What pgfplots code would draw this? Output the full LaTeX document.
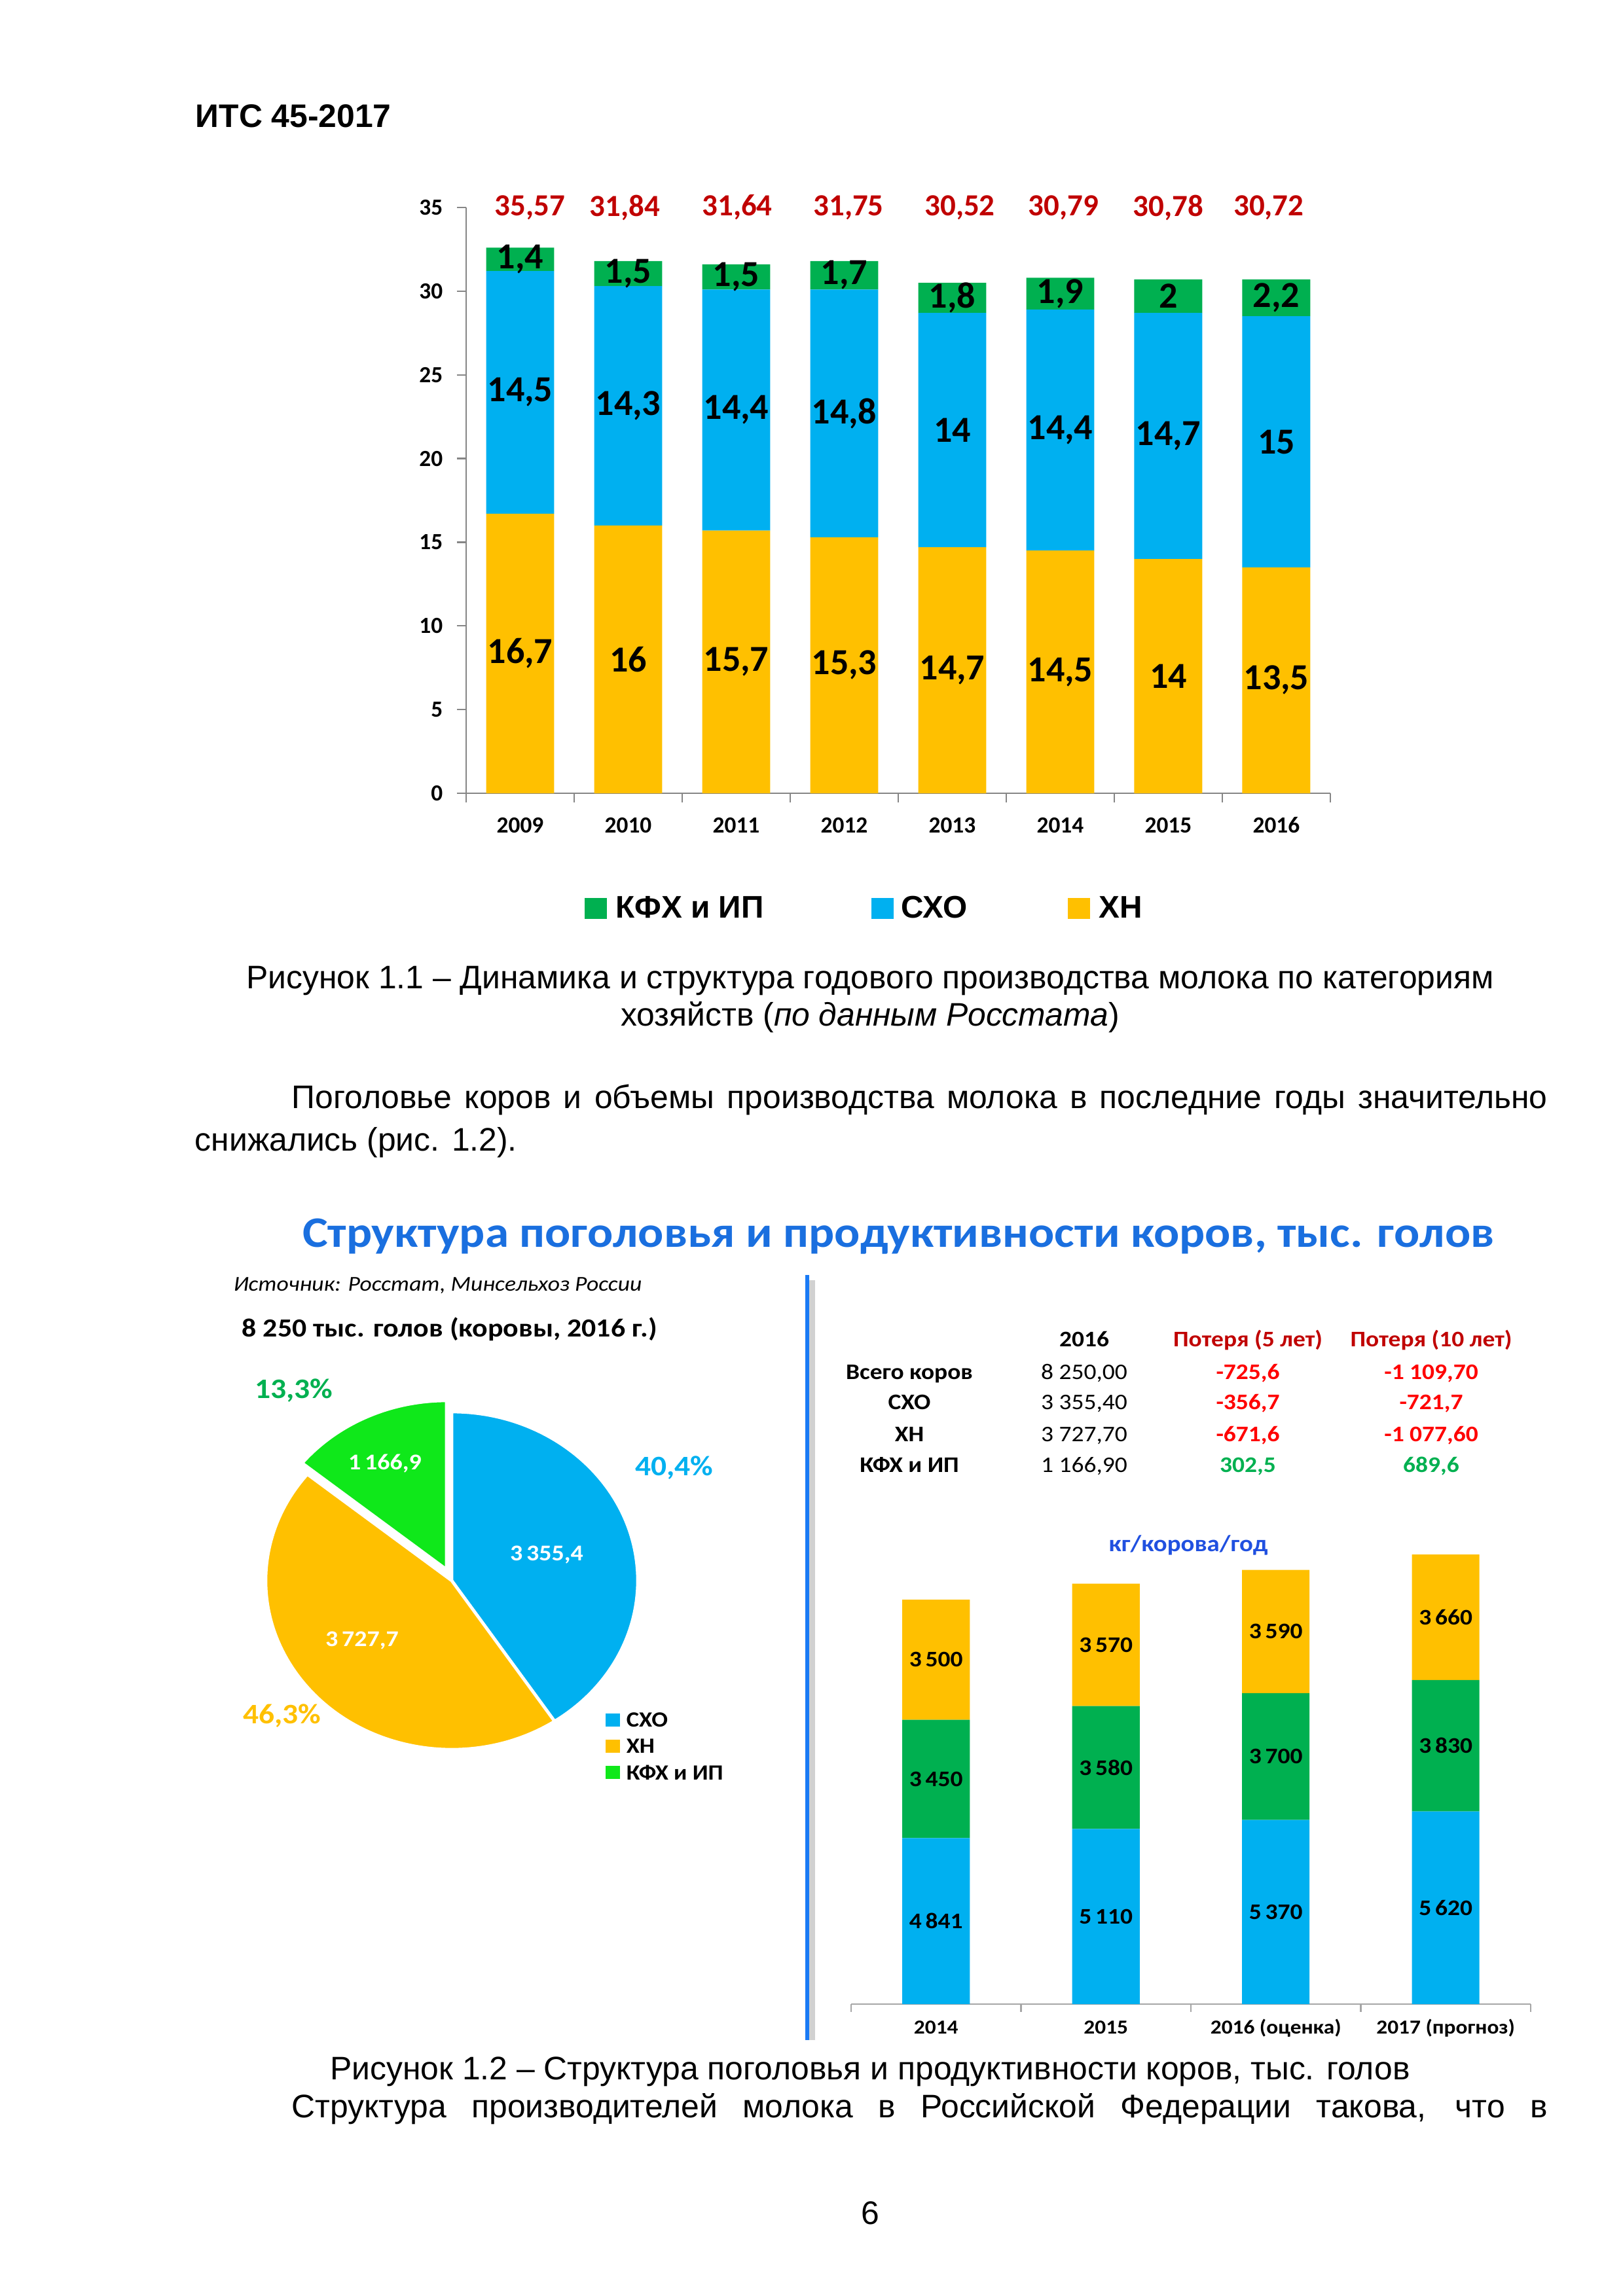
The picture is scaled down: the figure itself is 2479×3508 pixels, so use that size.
\documentclass[border=0pt]{standalone}
\usepackage{fontspec}
\usepackage{pgfplots}
\usepackage{pgfplotstable}
\pgfplotsset{compat=1.18}
\setmainfont{Liberation Sans}
\newfontfamily\calf{Carlito}
\newfontfamily\cals[FakeStretch=1.1]{Carlito}
\newcommand\fs[1]{\fontsize{#1}{#1}\selectfont}

\definecolor{cyel}{HTML}{FFC000}
\definecolor{cblu}{HTML}{00B0F0}
\definecolor{cgrn}{HTML}{00B050}
\definecolor{cpg}{HTML}{0FE81A}
\definecolor{cred}{HTML}{C00000}
\definecolor{rred}{HTML}{FF0000}
\definecolor{ttl}{HTML}{1A6FDF}
\definecolor{axg}{HTML}{868686}
\definecolor{axgb}{HTML}{A6A6A6}
\definecolor{vline}{HTML}{1A7BF5}
\definecolor{kgc}{HTML}{2050E0}

\pgfplotstableread{
x xn sxo kfh lxn lsxo lkfh tot tx
0 16.7 14.5 1.4 16,7 14,5 1,4 35,57 0.09
1 16 14.3 1.5 16 14,3 1,5 31,84 0.97
2 15.7 14.4 1.5 15,7 14,4 1,5 31,64 2.01
3 15.3 14.8 1.7 15,3 14,8 1,7 31,75 3.04
4 14.7 14 1.8 14,7 14 1,8 30,52 4.07
5 14.5 14.4 1.9 14,5 14,4 1,9 30,79 5.03
6 14 14.7 2 14 14,7 2 30,78 6.0
7 13.5 15 2.2 13,5 15 2,2 30,72 6.93
}\milk

\pgfplotstableread{
x sxo kfh xn
0 4841 3450 3500
1 5110 3580 3570
2 5370 3700 3590
3 5620 3830 3660
}\prodtab

\pgfplotsset{
  c1geo/.style={at={(C1)}, anchor=south west, scale only axis,
    width=111.76mm, height=75.78mm, xmin=-0.5, xmax=7.5, ymin=0, ymax=35, clip=false},
  c2geo/.style={at={(C2)}, anchor=south west, scale only axis,
    width=87.88mm, height=62.11mm, xmin=-0.5, xmax=3.5, ymin=0, ymax=14000, clip=false},
}

\begin{document}
\begin{tikzpicture}[x=0.0846657mm, y=-0.0846657mm]
\useasboundingbox (0,0) rectangle (2479,3508);
\coordinate (C1) at (712,1212);
\coordinate (C2) at (1300,3062);
\coordinate (CP) at (406,2673);
\pgfmathsetmacro\aA{90-360*(3355.4/8250)}
\pgfmathsetmacro\aB{\aA-360*(3727.7/8250)}

% ---------- header ----------
\node[anchor=base west, inner sep=0pt, font=\bfseries\fs{12}] at (298,194) {ИТС 45-2017};

% ---------- chart 1 ----------
\begin{axis}[c1geo, ybar stacked, bar width=0.63,
  axis x line*=bottom, axis y line*=left,
  axis line style={draw=axg, line width=0.2mm},
  tick style={draw=axg, line width=0.2mm},
  tick align=outside, major tick length=0pt, minor tick length=1.19mm,
  xtick={0,...,7}, xticklabels={2009,2010,2011,2012,2013,2014,2015,2016},
  minor xtick={-0.5,0.5,...,7.5},
  ytick={0,5,...,35}, minor ytick={0,5,...,35},
  ticklabel style={font=\calf\bfseries\fs{8.5}, inner sep=0pt},
  xticklabel style={anchor=base, yshift=-5.08mm},
  yticklabel style={anchor=east, xshift=-2.96mm},
  /pgf/number format/assume math mode=true]
\addplot[fill=cyel, draw=none] table[x=x, y=xn] {\milk};
\addplot[fill=cblu, draw=none] table[x=x, y=sxo] {\milk};
\addplot[fill=cgrn, draw=none] table[x=x, y=kfh] {\milk};
\end{axis}

\begin{axis}[c1geo, hide axis, nodes near coords, point meta=explicit symbolic,
  every node near coord/.append style={anchor=center, inner sep=0pt, font=\calf\bfseries\fs{13.5}}]
\addplot[draw=none, mark=none] table[x=x, y expr=\thisrow{xn}/2, meta=lxn] {\milk};
\addplot[draw=none, mark=none] table[x=x, y expr=\thisrow{xn}+\thisrow{sxo}/2, meta=lsxo] {\milk};
\addplot[draw=none, mark=none] table[x=x, y expr=\thisrow{xn}+\thisrow{sxo}+\thisrow{kfh}/2, meta=lkfh] {\milk};
\addplot[draw=none, mark=none, every node near coord/.append style={text=cred, font=\calf\bfseries\fs{11.3}}] table[x=tx, y expr=35, meta=tot] {\milk};
\end{axis}

% legend chart 1
\fill[cgrn] (893,1372) rectangle (927,1404);
\node[anchor=base west, inner sep=0pt, font=\bfseries\fs{11.5}] at (940,1402) {КФХ и ИП};
\fill[cblu] (1331,1372) rectangle (1365,1404);
\node[anchor=base west, inner sep=0pt, font=\bfseries\fs{11.5}] at (1376,1402) {СХО};
\fill[cyel] (1631,1372) rectangle (1665,1404);
\node[anchor=base west, inner sep=0pt, font=\bfseries\fs{11.5}] at (1678,1402) {ХН};

% captions and text
\node[anchor=base, inner sep=0pt, font=\fs{12}] at (1329,1510) {Рисунок 1.1 – Динамика и структура годового производства молока по категориям};
\node[anchor=base, inner sep=0pt, font=\fs{12}] at (1329,1567) {хозяйств (\textit{по данным Росстата})};
\node[anchor=base west, inner sep=0pt, font=\fs{12}] at (445,1693) {\makebox[162.39mm][s]{Поголовье коров и объемы производства молока в последние годы значительно}};
\node[anchor=base west, inner sep=0pt, font=\fs{12}] at (297,1758) {снижались (рис. 1.2).};

% ---------- chart 2 ----------
\node[anchor=base, inner sep=0pt, font=\cals\bfseries\fs{16}, text=ttl] at (1372,1905) {Структура поголовья и продуктивности коров, тыс. голов};
\node[anchor=base west, inner sep=0pt, font=\cals\itshape\fs{7.8}] at (356,1972) {Источник: Росстат, Минсельхоз России};
\node[anchor=base west, inner sep=0pt, font=\cals\bfseries\fs{9.6}] at (369,2042) {8~250 тыс. голов (коровы, 2016 г.)};

% separator
\fill[black!18] (1236,1956) rectangle (1245,3117);
\fill[vline] (1230,1948) rectangle (1236,3117);

% pie
\begin{axis}[at={(CP)}, anchor=south west, scale only axis, width=48.09mm, height=43.69mm,
  xmin=-1, xmax=1, ymin=-1, ymax=1, hide axis, clip=false]
\fill[cblu, draw=white, line width=0.4mm] (axis cs:0,0) -- (axis cs:0,1)
  arc[start angle=90, end angle=\aA, x radius=24.05mm, y radius=21.84mm] -- cycle;
\fill[cyel, draw=white, line width=0.4mm] (axis cs:0,0) -- (axis cs:{cos(\aA)},{sin(\aA)})
  arc[start angle=\aA, end angle=\aB, x radius=24.05mm, y radius=21.84mm] -- cycle;
\fill[cpg, draw=white, line width=0.4mm] (axis cs:-0.028,0.066) -- (axis cs:{-0.028+cos(\aB)},{0.066+sin(\aB)})
  arc[start angle=\aB, end angle=-270, x radius=24.05mm, y radius=21.84mm] -- cycle;
\end{axis}
\node[inner sep=0pt, font=\cals\bfseries\fs{10.4}, text=cgrn] at (449,2125) {13,3\%};
\node[inner sep=0pt, font=\cals\bfseries\fs{10.4}, text=cblu] at (1030,2243) {40,4\%};
\node[inner sep=0pt, font=\cals\bfseries\fs{10.4}, text=cyel] at (431,2622) {46,3\%};
\node[inner sep=0pt, font=\cals\bfseries\fs{8.3}, text=white] at (588,2236) {1\,166,9};
\node[inner sep=0pt, font=\cals\bfseries\fs{8.3}, text=white] at (835,2376) {3\,355,4};
\node[inner sep=0pt, font=\cals\bfseries\fs{8.3}, text=white] at (553,2507) {3\,727,7};
% pie legend
\fill[cblu] (925,2618) rectangle (947,2638);
\fill[cyel] (925,2658) rectangle (947,2678);
\fill[cpg] (925,2698) rectangle (947,2718);
\node[anchor=west, inner sep=0pt, font=\cals\bfseries\fs{8}] at (956,2628) {СХО};
\node[anchor=west, inner sep=0pt, font=\cals\bfseries\fs{8}] at (956,2668) {ХН};
\node[anchor=west, inner sep=0pt, font=\cals\bfseries\fs{8}] at (956,2708) {КФХ и ИП};

% table
\begin{scope}[every node/.style={anchor=base, inner sep=0pt, font=\cals\bfseries\fs{8.2}}]
\node at (1656,2057) {2016};
\node[text=cred] at (1906,2057) {Потеря (5 лет)};
\node[text=cred] at (2186,2057) {Потеря (10 лет)};
\node at (1389,2107) {Всего коров};
\node at (1389,2153) {СХО};
\node at (1389,2202) {ХН};
\node at (1389,2249) {КФХ и ИП};
\node[font=\cals\fs{8.2}] at (1656,2107) {8~250,00};
\node[font=\cals\fs{8.2}] at (1656,2153) {3~355,40};
\node[font=\cals\fs{8.2}] at (1656,2202) {3~727,70};
\node[font=\cals\fs{8.2}] at (1656,2249) {1~166,90};
\node[text=rred] at (1906,2107) {-725,6};
\node[text=rred] at (1906,2153) {-356,7};
\node[text=rred] at (1906,2202) {-671,6};
\node[text=cgrn] at (1906,2249) {302,5};
\node[text=rred] at (2186,2107) {-1~109,70};
\node[text=rred] at (2186,2153) {-721,7};
\node[text=rred] at (2186,2202) {-1~077,60};
\node[text=cgrn] at (2186,2249) {689,6};
\end{scope}

\node[inner sep=0pt, font=\cals\bfseries\fs{8.5}, text=kgc] at (1815,2361) {кг/корова/год};

% bottom-right stacked bars
\begin{axis}[c2geo, ybar stacked, bar width=0.397,
  axis x line*=bottom, axis y line=none,
  axis line style={draw=axgb, line width=0.2mm},
  tick style={draw=axgb, line width=0.2mm},
  tick align=outside, major tick length=0pt, minor tick length=1.0mm,
  xtick={0,1,2,3}, xticklabels={2014,2015,2016 (оценка),2017 (прогноз)},
  minor xtick={-0.5,0.5,...,3.5}, ytick=\empty,
  xticklabel style={font=\cals\bfseries\fs{7.3}, anchor=base, inner sep=0pt, yshift=-3.81mm}]
\addplot[fill=cblu, draw=none] table[x=x, y=sxo] {\prodtab};
\addplot[fill=cgrn, draw=none] table[x=x, y=kfh] {\prodtab};
\addplot[fill=cyel, draw=none] table[x=x, y=xn] {\prodtab};
\end{axis}

\begin{axis}[c2geo, hide axis, nodes near coords, point meta=explicit,
  every node near coord/.append style={anchor=center, inner sep=0pt, font=\cals\bfseries\fs{8.2}},
  /pgf/number format/1000 sep={\,}, /pgf/number format/assume math mode=true]
\addplot[draw=none, mark=none] table[x=x, y expr=\thisrow{sxo}/2, meta=sxo] {\prodtab};
\addplot[draw=none, mark=none] table[x=x, y expr=\thisrow{sxo}+\thisrow{kfh}/2, meta=kfh] {\prodtab};
\addplot[draw=none, mark=none] table[x=x, y expr=\thisrow{sxo}+\thisrow{kfh}+\thisrow{xn}/2, meta=xn] {\prodtab};
\end{axis}

% caption 1.2 and text
\node[anchor=base, inner sep=0pt, font=\fs{12}] at (1329,3177) {Рисунок 1.2 – Структура поголовья и продуктивности коров, тыс. голов};
\node[anchor=base west, inner sep=0pt, font=\fs{12}] at (445,3235) {\makebox[162.39mm][s]{Структура производителей молока в Российской Федерации такова, что в}};
\node[anchor=base, inner sep=0pt, font=\fs{12}] at (1329,3398) {6};
\end{tikzpicture}
\end{document}
